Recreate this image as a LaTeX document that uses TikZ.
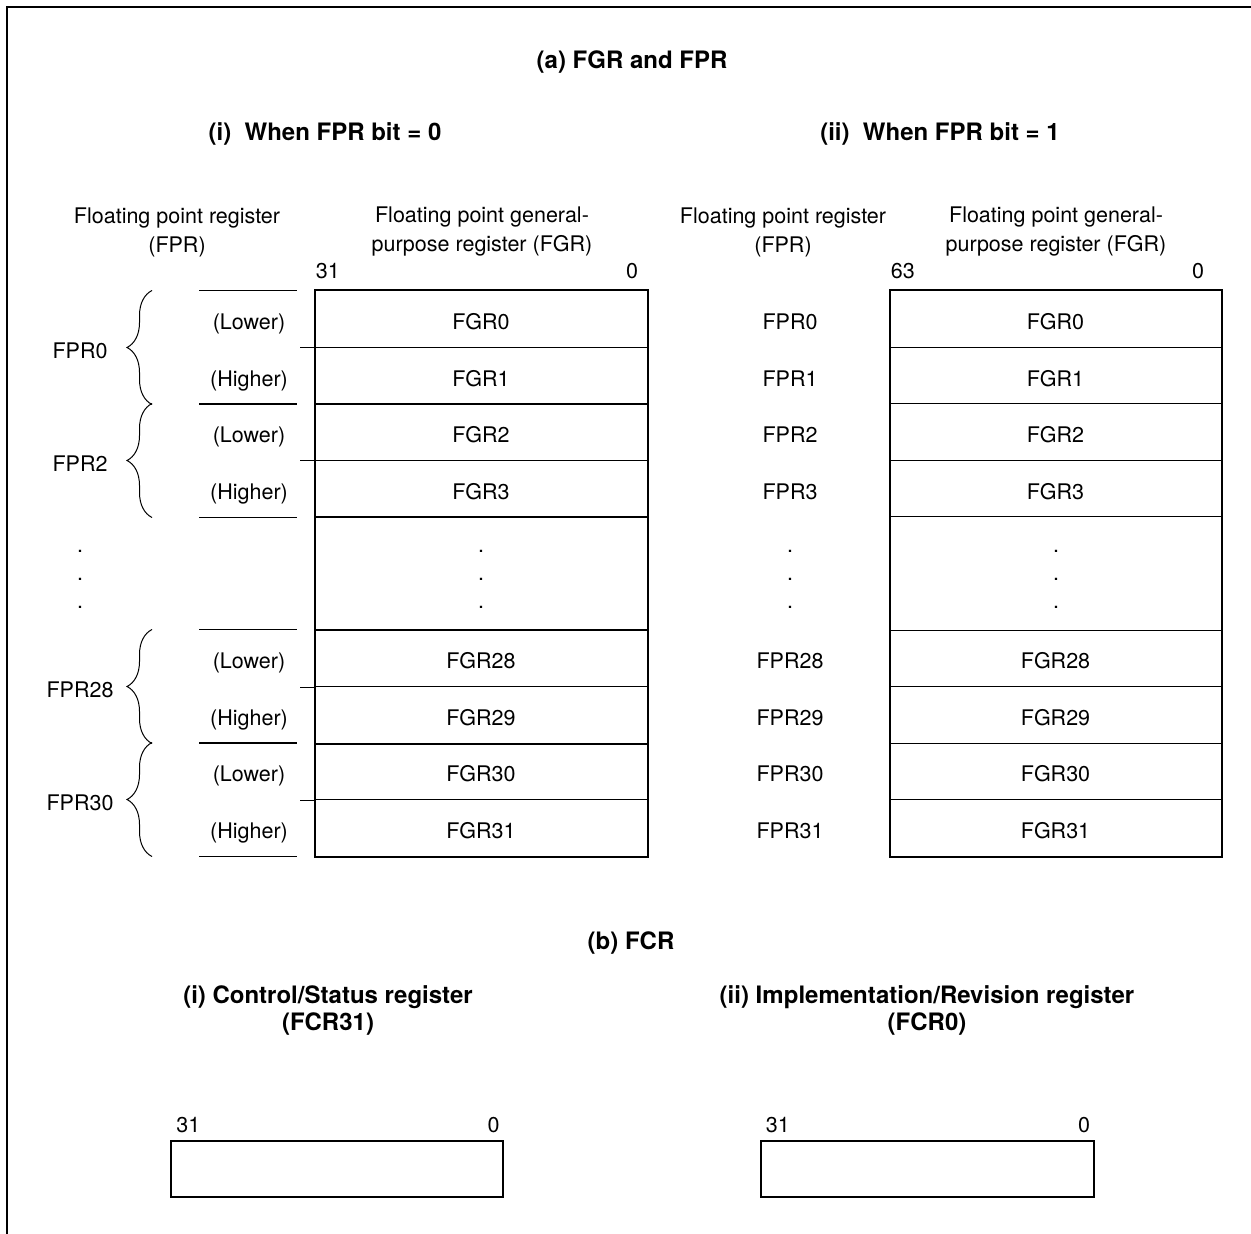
\documentclass[tikz,border=0pt]{standalone}
\usepackage{fontspec}
\setmainfont{TeX Gyre Heros}
\usetikzlibrary{positioning, decorations.pathreplacing}

\begin{document}
\begin{tikzpicture}[
    x=0.5pt, y=-0.5pt,
    % Node styles
    cell/.style={
        rectangle, draw=black, line width=0.5pt,
        minimum width=166pt, minimum height=28.25pt, inner sep=0pt,
        font=\fontsize{10.75}{13}\selectfont, text height=10.5pt, text depth=0pt
    },
    lbl/.style={font=\fontsize{10.75}{14.5}\selectfont, inner sep=0pt, align=center},
    rowtxt/.style={text height=10.5pt, text depth=0pt},
    heading/.style={font=\fontsize{12}{13.5}\selectfont\bfseries, inner sep=0pt, align=center},
    regbox/.style={
        rectangle, draw=black, line width=1pt,
        minimum width=166pt, minimum height=28pt, inner sep=0pt
    },
    outline/.style={line width=1pt},
    rule/.style={line width=0.5pt},
    grp/.style={decorate, decoration={brace, amplitude=12.5pt}, line width=0.5pt},
    edgeline/.style={line width=1pt}
]
\useasboundingbox (0,0) rectangle (1251,1234);

% ============================================================
% Frame and titles
% ============================================================
\draw[edgeline] (7,1234) -- (7,7) -- (1251,7);

\node[heading] (ttla) at (632,62) {(a) FGR and FPR};
\node[heading] (ttli) at (325,134) {(i)\ \ When FPR bit = 0};
\node[heading] (ttlii) at (940,134) {(ii)\ \ When FPR bit = 1};

\node[lbl] (hfprl) at (177,232) {Floating point register\\(FPR)};
\node[lbl] (hfgrl) at (482,232) {Floating point general-\\purpose register (FGR)};
\node[lbl] (hfprr) at (783,232) {Floating point register\\(FPR)};
\node[lbl] (hfgrr) at (1056,232) {Floating point general-\\purpose register (FGR)};

% ============================================================
% Register rows
% ============================================================
\foreach \n/\y in {0/319.25, 1/375.75, 2/432.25, 3/488.75,
                   28/658.25, 29/714.75, 30/771.25, 31/827.75}{
    \node[cell] (fgr\n) at (481,\y) {FGR\n};
    \node[cell, minimum width=165.5pt] (xgr\n) at (1055.5,\y) {FGR\n};
    \node[lbl, rowtxt] (xpr\n) at (790,\y) {FPR\n};
}
\node[cell, minimum height=56.5pt] (fgrdots) at (481,573.5) {};
\node[cell, minimum width=165.5pt, minimum height=56.5pt] (xgrdots) at (1055.5,573.5) {};

% dots
\foreach \k/\y in {1/551, 2/579, 3/607}{
    \node[lbl] (ldot\k) at (80,\y) {.};
    \node[lbl] (bdot\k) at (481,\y) {.};
    \node[lbl] (rdot\k) at (790,\y) {.};
    \node[lbl] (xdot\k) at (1056,\y) {.};
}

% outlines
\draw[outline] (fgr0.north west) rectangle (fgr31.south east);
\foreach \n in {1,3,29}
    \draw[outline] (fgr\n.south west) -- (fgr\n.south east);
\draw[outline] (fgr28.north west) -- (fgr28.north east);
\draw[outline] (xgr0.north west) rectangle (xgr31.south east);

% bit numbers
\node[lbl, anchor=base west] (msbl) at ([xshift=0.5pt, yshift=6pt]fgr0.north west) {31};
\node[lbl, anchor=base east] (lsbl) at ([xshift=-4.5pt, yshift=6pt]fgr0.north east) {0};
\node[lbl, anchor=base west] (msbr) at ([xshift=0.5pt, yshift=6pt]xgr0.north west) {63};
\node[lbl, anchor=base east] (lsbr) at ([xshift=-8.5pt, yshift=6pt]xgr0.north east) {0};

% ============================================================
% FPR pairs on the left
% ============================================================
\coordinate (fprcol) at (80,0);
\coordinate (halfcol) at (249,0);
\coordinate (bracex) at (152,0);
\coordinate (rulel) at (199,0);
\coordinate (ruler) at (297,0);

\foreach \a/\b in {0/1, 2/3, 28/29, 30/31}{
    \node[lbl, rowtxt] (lo\a) at (halfcol |- fgr\a) {(Lower)};
    \node[lbl, rowtxt] (hi\b) at (halfcol |- fgr\b) {(Higher)};
    \draw[rule] (rulel |- fgr\a.north) -- (ruler |- fgr\a.north);
    \draw[rule] (rulel |- fgr\b.south) -- (ruler |- fgr\b.south);
    \draw[rule] (fgr\a.south west) -- ++(-15,0);
    \draw[grp] (bracex |- fgr\b.south) -- (bracex |- fgr\a.north);
    \node[lbl, rowtxt] (fpr\a) at (fprcol |- fgr\a.south) {FPR\a};
}

% ============================================================
% FCR
% ============================================================
\node[heading] (ttlb) at (631,943) {(b) FCR};
\node[heading] (ttlbi) at (328,1010) {(i) Control/Status register\\(FCR31)};
\node[heading] (ttlbii) at (927,1010) {(ii) Implementation/Revision register\\(FCR0)};

\node[regbox] (fcr31) at (337,1169) {};
\node[regbox, minimum width=166.5pt] (fcr0) at (927,1169) {};

\node[lbl, anchor=base west] (msbc) at ([xshift=3pt, yshift=4pt]fcr31.north west) {31};
\node[lbl, anchor=base east] (lsbc) at ([xshift=-2pt, yshift=4pt]fcr31.north east) {0};
\node[lbl, anchor=base west] (msbi) at ([xshift=3pt, yshift=4pt]fcr0.north west) {31};
\node[lbl, anchor=base east] (lsbi) at ([xshift=-2pt, yshift=4pt]fcr0.north east) {0};

\end{tikzpicture}
\end{document}
